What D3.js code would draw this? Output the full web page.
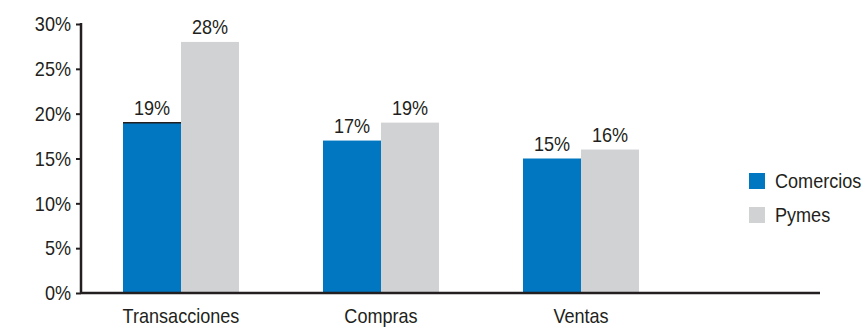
<!DOCTYPE html>
<html>
<head>
<meta charset="utf-8">
<script src="https://cdn.jsdelivr.net/npm/d3@7"></script>
<style>
  body { margin: 0; background: #fff; }
  svg text { font-family: "Liberation Sans", Arial, sans-serif; fill: #231f20; }
</style>
</head>
<body>
<div id="chart"></div>
<script>
var categories = ["Transacciones", "Compras", "Ventas"];
var seriesNames = ["Comercios", "Pymes"];
var comercios = [19, 17, 15];
var pymes = [28, 19, 16];
var yTicks = [0, 5, 10, 15, 20, 25, 30];
var colors = ["#0077c0", "#d1d2d4"];

var width = 866, height = 328;
var margin = {top: 24, left: 81, bottom: 35, right: 185};
var fontSize = "21px";

var svg = d3.select("#chart").append("svg")
    .attr("width", width)
    .attr("height", height);

// squeeze text horizontally to mimic a condensed face
function condense(sel) {
    sel.each(function() {
        var w = this.getComputedTextLength();
        d3.select(this)
            .attr("textLength", w * 0.86)
            .attr("lengthAdjust", "spacingAndGlyphs");
    });
}

var x = d3.scaleBand()
    .domain(categories)
    .range([margin.left, 681])
    .paddingInner(0.42)
    .paddingOuter(0.21);

var xSub = d3.scaleBand()
    .domain(seriesNames)
    .range([0, x.bandwidth()]);

var y = d3.scaleLinear()
    .domain([0, 30])
    .range([height - margin.bottom, margin.top]);

// bars
var data = categories.map((c, i) => ({cat: c, vals: [comercios[i], pymes[i]]}));

var groups = svg.selectAll(".group")
    .data(data)
    .enter().append("g")
    .attr("class", "group")
    .attr("transform", d => "translate(" + x(d.cat) + ",0)");

groups.selectAll("rect")
    .data(d => d.vals.map((v, j) => ({name: seriesNames[j], v: v, j: j})))
    .enter().append("rect")
    .attr("x", d => xSub(d.name))
    .attr("y", d => y(d.v))
    .attr("width", xSub.bandwidth())
    .attr("height", d => y(0) - y(d.v))
    .style("fill", d => colors[d.j]);

// thin dark edge on top of the first blue bar, as in the original
svg.append("line")
    .attr("x1", x(categories[0]) + xSub(seriesNames[0]))
    .attr("x2", x(categories[0]) + xSub(seriesNames[0]) + xSub.bandwidth())
    .attr("y1", y(comercios[0]))
    .attr("y2", y(comercios[0]))
    .style("stroke", "#231f20")
    .style("stroke-width", 1.5);

groups.selectAll(".label")
    .data(d => d.vals.map((v, j) => ({name: seriesNames[j], v: v})))
    .enter().append("text")
    .attr("class", "label")
    .attr("x", d => xSub(d.name) + xSub.bandwidth() / 2)
    .attr("y", d => y(d.v) - 8)
    .attr("text-anchor", "middle")
    .style("font-size", fontSize)
    .text(d => d.v + "%")
    .call(condense);

// y axis
var yAxis = svg.append("g")
    .attr("transform", "translate(" + margin.left + ",0)")
    .call(d3.axisLeft(y).tickValues(yTicks).tickSize(5).tickPadding(5).tickFormat(d => d + "%"));
yAxis.select(".domain").remove();
yAxis.selectAll(".tick line").style("stroke", "#231f20").style("stroke-width", 2);
yAxis.selectAll("text").style("font-size", fontSize).style("fill", "#231f20").call(condense);
yAxis.append("line")
    .attr("x1", 0).attr("x2", 0)
    .attr("y1", y(30) - 1).attr("y2", y(0))
    .style("stroke", "#231f20").style("stroke-width", 2.5);

// x axis
var xAxis = svg.append("g")
    .attr("transform", "translate(0," + y(0) + ")")
    .call(d3.axisBottom(x).tickSize(0).tickPadding(15));
xAxis.select(".domain").remove();
xAxis.selectAll("text").style("font-size", fontSize).style("fill", "#231f20").call(condense);
xAxis.append("line")
    .attr("x1", margin.left).attr("x2", 820)
    .style("stroke", "#231f20").style("stroke-width", 2.5);

// legend
var legend = svg.append("g")
    .attr("transform", "translate(749,173)");
var items = legend.selectAll(".item")
    .data(seriesNames)
    .enter().append("g")
    .attr("transform", (d, i) => "translate(0," + i * 34 + ")");
items.append("rect")
    .attr("width", 16).attr("height", 16)
    .style("fill", (d, i) => colors[i]);
items.append("text")
    .attr("x", 26).attr("y", 15)
    .style("font-size", fontSize)
    .text(d => d)
    .call(condense);
</script>
</body>
</html>
